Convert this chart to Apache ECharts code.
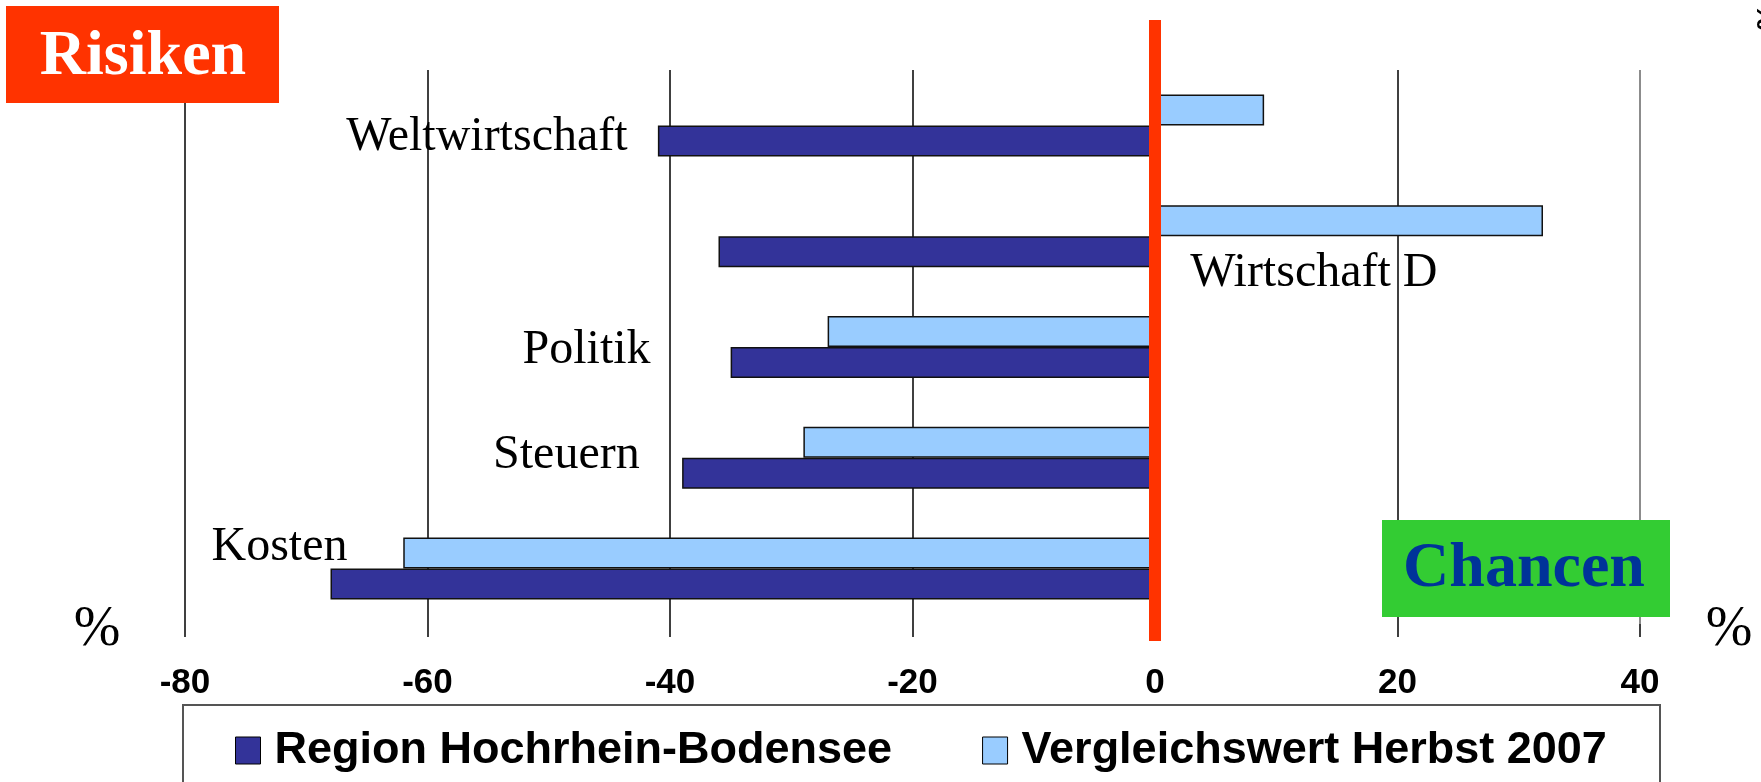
<!DOCTYPE html>
<html>
<head>
<meta charset="utf-8">
<script src="https://cdn.jsdelivr.net/npm/echarts@6/dist/echarts.min.js"></script>
</head>
<body style="margin:0;background:#fff;">
<div id="main" style="width:1761px;height:782px;"></div>
<script>
// Daten
var categories = ['Weltwirtschaft', 'Wirtschaft D', 'Politik', 'Steuern', 'Kosten'];
var region = [-41, -36, -35, -39, -68];      // Region Hochrhein-Bodensee
var vergleich = [9, 32, -27, -29, -62];      // Vergleichswert Herbst 2007
var xTicks = [-80, -60, -40, -20, 0, 20, 40];
var seriesNames = ['Region Hochrhein-Bodensee', 'Vergleichswert Herbst 2007'];

// wo die Kategorienamen stehen (x in Achsenwerten, dy in px zur Bandmitte)
var labelSpots = [
    {x: -43.5, dy: 12, align: 'right'},
    {x: 2.9, dy: 37, align: 'left'},
    {x: -41.6, dy: 3, align: 'right'},
    {x: -42.5, dy: -2, align: 'right'},
    {x: -66.6, dy: -21, align: 'right'}
];

var myChart = echarts.init(document.getElementById('main'));
var option = {
    animation: false,
    grid: {left: 185, right: 121, top: 70, bottom: 158},
    legend: {
        left: 230, top: 723,
        data: seriesNames,
        icon: 'rect',
        itemWidth: 25, itemHeight: 27,
        itemGap: 90,
        itemStyle: {borderColor: '#000', borderWidth: 1},
        textStyle: {fontFamily: 'Liberation Sans', fontWeight: 'bold', fontSize: 45, color: '#000', padding: [0, 0, 0, 9]}
    },
    xAxis: {
        type: 'value',
        min: xTicks[0], max: xTicks[xTicks.length - 1], interval: 20,
        axisLine: {onZero: false, lineStyle: {color: '#555', width: 2}},
        axisTick: {show: true, length: 13, lineStyle: {color: '#000', width: 1.5}},
        axisLabel: {margin: 42, fontFamily: 'Liberation Sans', fontWeight: 'bold', fontSize: 35, color: '#000'},
        splitLine: {show: true, lineStyle: {color: ['#000', '#000', '#000', '#000', '#000', '#000', '#666'], width: 1.5}}
    },
    yAxis: {
        type: 'category',
        inverse: true,
        data: categories,
        axisLine: {show: true, lineStyle: {color: '#000'}},
        axisTick: {show: true, length: 4, lineStyle: {color: '#000'}},
        axisLabel: {show: false}
    },
    series: [
        {
            name: seriesNames[1], type: 'bar', data: vergleich,
            barWidth: 31, barGap: '0%',
            itemStyle: {color: '#99CCFF', borderColor: '#111', borderWidth: 1.5}
        },
        {
            name: seriesNames[0], type: 'bar', data: region,
            barWidth: 31, barGap: '0%',
            itemStyle: {color: '#333399', borderColor: '#111', borderWidth: 1.5}
        }
    ]
};
myChart.setOption(option);

// Nulllinie, Kästen und Beschriftungen
var zeroX = myChart.convertToPixel({xAxisIndex: 0}, 0);
var gfx = [
    {type: 'rect', shape: {x: zeroX - 6, y: 20, width: 12, height: 621}, style: {fill: '#FF3300'}, z: 100},
    {type: 'rect', shape: {x: 183, y: 705, width: 1477, height: 100}, style: {fill: 'none', stroke: '#555', lineWidth: 2}, z: 1},
    {type: 'rect', shape: {x: 6, y: 6, width: 273, height: 97}, style: {fill: '#FF3300'}, z: 50},
    {type: 'text', x: 143, y: 57, style: {text: 'Risiken', fill: '#fff', font: 'bold 64px "Liberation Serif"', textAlign: 'center', textVerticalAlign: 'middle'}, z: 51},
    {type: 'rect', shape: {x: 1382, y: 520, width: 288, height: 97}, style: {fill: '#33CC33'}, z: 50},
    {type: 'text', x: 1524, y: 569, style: {text: 'Chancen', fill: '#003399', font: 'bold 64px "Liberation Serif"', textAlign: 'center', textVerticalAlign: 'middle'}, z: 51},
    {type: 'text', x: 97, y: 630, style: {text: '%', fill: '#000', font: '56px "Liberation Serif"', textAlign: 'center', textVerticalAlign: 'middle'}, z: 51},
    {type: 'text', x: 1729, y: 630, style: {text: '%', fill: '#000', font: '56px "Liberation Serif"', textAlign: 'center', textVerticalAlign: 'middle'}, z: 51},
    {type: 'text', x: 1765, y: 17, rotation: -Math.PI / 2, style: {text: '%', fill: '#000', font: 'bold 30px "Liberation Sans"', textAlign: 'center', textVerticalAlign: 'middle'}, z: 51}
];
for (var i = 0; i < categories.length; i++) {
    var px = myChart.convertToPixel({xAxisIndex: 0}, labelSpots[i].x);
    var py = myChart.convertToPixel({yAxisIndex: 0}, categories[i]);
    gfx.push({
        type: 'text', x: px, y: py + labelSpots[i].dy, z: 60,
        style: {text: categories[i], fill: '#000', font: '48px "Liberation Serif"', textAlign: labelSpots[i].align, textVerticalAlign: 'middle'}
    });
}
myChart.setOption({graphic: gfx});
</script>
</body>
</html>
